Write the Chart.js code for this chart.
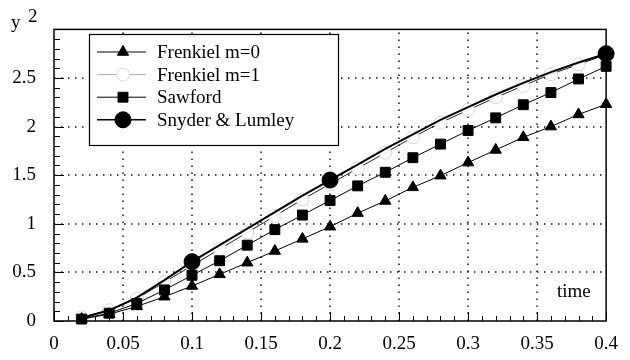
<!DOCTYPE html>
<html><head><meta charset="utf-8">
<script src="https://cdn.jsdelivr.net/npm/chart.js@4.4.1/dist/chart.umd.min.js"></script>
<style>html,body{margin:0;padding:0;background:#fff;}</style>
</head><body>
<canvas id="c" width="630" height="360"></canvas>
<script>
// ---- data ----
const time = [0.02,0.04,0.06,0.08,0.10,0.12,0.14,0.16,0.18,0.20,0.22,0.24,0.26,0.28,0.30,0.32,0.34,0.36,0.38,0.40];
const frenkielM0 = [0.02,0.07,0.15,0.25,0.36,0.48,0.60,0.72,0.845,0.97,1.11,1.235,1.375,1.495,1.63,1.76,1.89,2.00,2.125,2.23];
const frenkielM1 = [0.04,0.11,0.23,0.40,0.57,0.74,0.91,1.08,1.25,1.41,1.57,1.73,1.89,2.04,2.17,2.30,2.42,2.54,2.64,2.74];
const sawford    = [0.02,0.08,0.18,0.32,0.47,0.62,0.78,0.94,1.09,1.24,1.39,1.53,1.68,1.82,1.96,2.09,2.225,2.35,2.49,2.62];
const snyderLumley = [0.03,0.11,0.24,0.42,0.61,0.78,0.95,1.12,1.29,1.45,1.61,1.77,1.92,2.07,2.20,2.33,2.45,2.56,2.66,2.75];
const snyderMarkerTimes = [0.10,0.20,0.40];
const seriesNames = ['Frenkiel m=0','Frenkiel m=1','Sawford','Snyder & Lumley'];
const xTickLabels = ['0','0.05','0.1','0.15','0.2','0.25','0.3','0.35','0.4'];
const yTickLabels = ['0','0.5','1','1.5','2','2.5',''];
const xTitle = 'time';
const yTitle = 'y';
const yTitleSup = '2';

const FONT = "'Liberation Serif', 'Times New Roman', serif";
const pts = arr => time.map((t,i)=>({x:t, y:arr[i]}));

const datasets = [
  {label:seriesNames[0], data:pts(frenkielM0), borderColor:'#000', borderWidth:1,
   pointStyle:'triangle', pointRadius:6.5, pointBackgroundColor:'#000', pointBorderColor:'#000', pointBorderWidth:1, order:1},
  {label:seriesNames[1], data:pts(frenkielM1), borderColor:'#222', borderWidth:1,
   pointStyle:'circle', pointRadius:6.5, pointBackgroundColor:'rgba(255,255,255,0.9)', pointBorderColor:'#d6d6d6', pointBorderWidth:1, order:5},
  {label:seriesNames[2], data:pts(sawford), borderColor:'#000', borderWidth:1,
   pointStyle:'rect', pointRadius:7, pointBackgroundColor:'#000', pointBorderColor:'#000', pointBorderWidth:1, order:2},
  {label:seriesNames[3], data:pts(snyderLumley), borderColor:'#000', borderWidth:2,
   pointStyle:'circle', pointBackgroundColor:'#000', pointBorderColor:'#000', pointBorderWidth:1, order:0,
   pointRadius: ctx => snyderMarkerTimes.some(t => Math.abs(t - time[ctx.dataIndex]) < 1e-9) ? 8 : 0}
];
datasets.forEach(d=>{ d.showLine = true; d.clip = false; d.tension = 0; d.fill = false; });

const legendStyle = [
  {line:'#000', lw:1, style:'triangle', r:6.5, fill:'#000', stroke:'#000'},
  {line:'#aaa', lw:1, style:'circle', r:6.5, fill:'#fff', stroke:'#d6d6d6'},
  {line:'#000', lw:1, style:'rect', r:7, fill:'#000', stroke:'#000'},
  {line:'#000', lw:1.5, style:'circle', r:8, fill:'#000', stroke:'#000'}
];

const decor = {
  id:'decor',
  beforeDatasetsDraw(chart){
    const {ctx, chartArea:a, scales:{x, y}} = chart;
    ctx.save();
    ctx.strokeStyle = '#111'; ctx.lineWidth = 1.5; ctx.setLineDash([1.5,5.5]);
    x.ticks.forEach(t=>{
      if (t.value <= 0 || t.value >= 0.4) return;
      const px = Math.round(x.getPixelForValue(t.value));
      ctx.beginPath(); ctx.moveTo(px, a.bottom); ctx.lineTo(px, a.top); ctx.stroke();
    });
    y.ticks.forEach(t=>{
      if (t.value <= 0 || t.value >= 3) return;
      const py = Math.round(y.getPixelForValue(t.value));
      ctx.beginPath(); ctx.moveTo(a.left, py); ctx.lineTo(a.right, py); ctx.stroke();
    });
    ctx.restore();
  },
  afterDatasetsDraw(chart){
    const {ctx, chartArea:a, scales:{x, y}} = chart;
    ctx.save();
    // ticks (inward)
    ctx.strokeStyle = '#000'; ctx.lineWidth = 1;
    for (let k=0;k<=40;k++){
      const px = Math.round(x.getPixelForValue(k/100)) + 0.5;
      const len = (k % 5 === 0) ? 9 : 5;
      ctx.beginPath(); ctx.moveTo(px, a.bottom); ctx.lineTo(px, a.bottom - len); ctx.stroke();
    }
    for (let k=0;k<=30;k++){
      const py = Math.round(y.getPixelForValue(k/10)) + 0.5;
      const len = (k % 5 === 0) ? 10 : 6;
      ctx.beginPath(); ctx.moveTo(a.left, py); ctx.lineTo(a.left + len, py); ctx.stroke();
    }
    // frame
    ctx.lineWidth = 1.5;
    ctx.strokeRect(a.left, a.top, a.right - a.left, a.bottom - a.top);

    // legend box
    const bx = 89, by = 34, bw = 249, bh = 111;
    ctx.fillStyle = '#fff'; ctx.fillRect(bx, by, bw, bh);
    ctx.lineWidth = 1.2; ctx.strokeStyle = '#000'; ctx.strokeRect(bx + 0.5, by + 0.5, bw, bh);
    ctx.font = '19px ' + FONT; ctx.textBaseline = 'middle'; ctx.textAlign = 'left';
    seriesNames.forEach((name, i)=>{
      const ry = 52 + i * 22.6;
      const st = legendStyle[i];
      ctx.strokeStyle = st.line; ctx.lineWidth = st.lw;
      ctx.beginPath(); ctx.moveTo(97, ry); ctx.lineTo(146, ry); ctx.stroke();
      ctx.fillStyle = st.fill; ctx.strokeStyle = st.stroke; ctx.lineWidth = 1;
      Chart.helpers.drawPoint(ctx, {pointStyle: st.style, radius: st.r, rotation: 0, borderWidth: 1}, 123, ry);
      ctx.fillStyle = '#000';
      ctx.fillText(name, 157, ry + 1);
    });

    // titles
    ctx.fillStyle = '#000';
    ctx.font = '19px ' + FONT; ctx.textBaseline = 'alphabetic';
    ctx.fillText(xTitle, 557, 297);
    ctx.fillText(yTitle, 11, 28);
    ctx.fillText(yTitleSup, 28, 22);
    ctx.restore();
  }
};

new Chart(document.getElementById('c'), {
  type:'scatter',
  data:{datasets},
  options:{
    responsive:false, animation:false, devicePixelRatio:1,
    layout:{padding:{top:3, right:12, left:0, bottom:0}},
    plugins:{legend:{display:false}, tooltip:{enabled:false}},
    scales:{
      x:{type:'linear', min:0, max:0.4,
         grid:{display:false, drawTicks:false}, border:{display:false},
         ticks:{stepSize:0.05, padding:12, color:'#000', font:{family:FONT, size:19},
                callback:(v,i)=>xTickLabels[i], maxRotation:0, autoSkip:false},
         afterFit:s=>{ s.height = 39; }},
      y:{type:'linear', min:0, max:3,
         grid:{display:false, drawTicks:false}, border:{display:false},
         ticks:{stepSize:0.5, padding:18, color:'#000', font:{family:FONT, size:19},
                callback:(v,i)=>yTickLabels[i], autoSkip:false},
         afterFit:s=>{ s.width = 54; }}
    }
  },
  plugins:[decor]
});
</script>
</body></html>
